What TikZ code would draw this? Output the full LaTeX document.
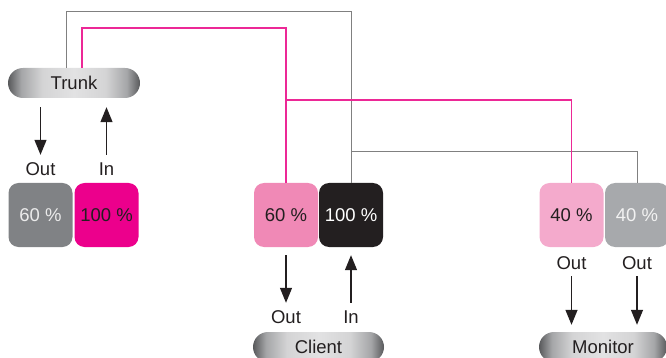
\documentclass[tikz,border=0pt]{standalone}
\usepackage{fontspec}
\setmainfont{Liberation Sans}
\usetikzlibrary{arrows.meta}
\definecolor{boxgray}{RGB}{128,130,133}
\definecolor{magentaA}{RGB}{236,0,140}
\definecolor{pinkA}{RGB}{240,137,182}
\definecolor{pinkB}{RGB}{244,170,204}
\definecolor{inkblack}{RGB}{35,31,32}
\definecolor{lightgrayA}{RGB}{167,169,172}
\definecolor{wireGray}{RGB}{128,128,128}
\definecolor{wirePink}{RGB}{236,40,150}
\definecolor{pillDark}{RGB}{88,89,91}
\definecolor{pillMid}{RGB}{165,166,168}
\definecolor{pillSoft}{RGB}{212,212,213}
\definecolor{pillLight}{RGB}{226,226,227}
% metallic look of the rounded end labels
\pgfdeclarehorizontalshading{pillshade}{100bp}{
  color(0bp)=(pillDark); color(25bp)=(pillDark); color(30bp)=(pillMid);
  color(38bp)=(pillSoft); color(50bp)=(pillLight); color(62bp)=(pillSoft);
  color(70bp)=(pillMid); color(75bp)=(pillDark); color(100bp)=(pillDark)}
\tikzset{
  pill/.style={rounded corners=15pt, minimum width=#1, minimum height=30pt,
    inner sep=0pt, shading=pillshade, shading angle=0,
    text=inkblack, font=\fontsize{18.5}{21}\selectfont},
  pct/.style={rounded corners=10pt, minimum width=64pt, minimum height=64pt,
    inner sep=0pt, fill=#1, font=\fontsize{18.5}{21}\selectfont},
  lbl/.style={inner sep=0pt, text=inkblack, font=\fontsize{18.5}{21}\selectfont},
  grayline/.style={draw=wireGray, line width=1pt},
  pinkline/.style={draw=wirePink, line width=1.2pt},
  arr/.style={draw=inkblack, line width=1.3pt, -{Triangle[length=15pt,width=12pt]}}
}
\begin{document}
\begin{tikzpicture}[x=1pt,y=-1pt]
\useasboundingbox (0,0) rectangle (666,358);

% source side
\node[pill=132pt] (trunk) at (74,83) {Trunk};
\node[pct=boxgray, text=white!92!black] (tOut) at (40.5,215) {60 \%};
\node[pct=magentaA, text=inkblack] (tIn) at (106.5,215) {100 \%};

% client side
\node[pct=pinkA, text=inkblack] (cOut) at (286,215) {60 \%};
\node[pct=inkblack, text=white] (cIn) at (351,215) {100 \%};
\node[pill=131pt] (client) at (318.5,347) {Client};

% monitor side
\node[pct=pinkB, text=inkblack] (mA) at (571.5,215) {40 \%};
\node[pct=lightgrayA, text=white!95!black] (mB) at (637,215) {40 \%};
\node[pill=128pt] (monitor) at (603,347) {Monitor};

% wiring between the boxes
\coordinate (gTop) at (351,12);
\coordinate (pTop) at (286,28);
\coordinate (gSplit) at (351,152);
\coordinate (pSplit) at (286,100);
\draw[grayline] ([xshift=-8pt]trunk.north) |- (gTop) -- (cIn.north);
\draw[grayline] (gSplit) -| (mB.north);
\draw[pinkline] ([xshift=8pt]trunk.north) |- (pTop) -- (cOut.north);
\draw[pinkline] (pSplit) -| (mA.north);

% trunk arrows and labels
\node[lbl] (tOutL) at (40.5,169) {Out};
\node[lbl] (tInL) at (106.5,169) {In};
\draw[arr] ([yshift=-9pt]trunk.south -| tOut.north) -- ([yshift=28pt]tOut.north);
\draw[arr] ([yshift=28pt]tIn.north) -- ([yshift=-9pt]trunk.south -| tIn.north);

% client arrows and labels
\node[lbl] (cOutL) at (286,317) {Out};
\node[lbl] (cInL) at (351,317) {In};
\draw[arr] ([yshift=-8pt]cOut.south) -- ([yshift=29pt]client.north -| cOut.south);
\draw[arr] ([yshift=29pt]client.north -| cIn.south) -- ([yshift=-8pt]cIn.south);

% monitor arrows and labels
\node[lbl] (mAL) at (571.5,263) {Out};
\node[lbl] (mBL) at (637,263) {Out};
\draw[arr] ([yshift=-29pt]mA.south) -- ([yshift=7pt]monitor.north -| mA.south);
\draw[arr] ([yshift=-29pt]mB.south) -- ([yshift=7pt]monitor.north -| mB.south);
\end{tikzpicture}
\end{document}
